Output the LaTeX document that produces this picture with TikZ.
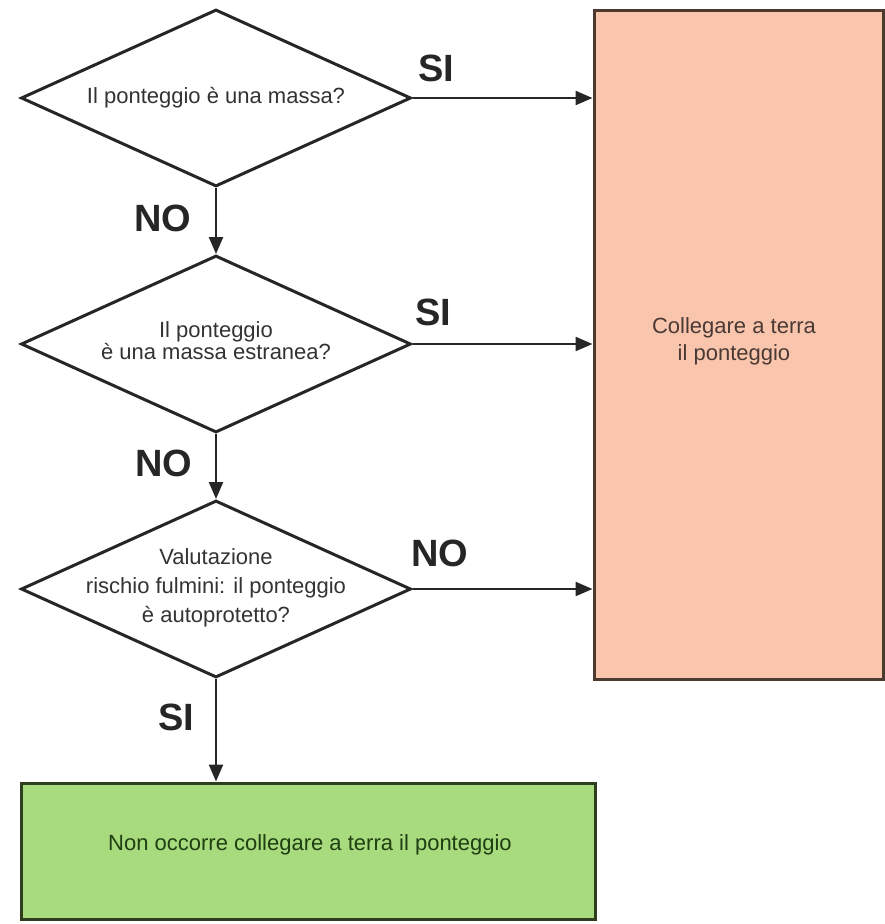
\documentclass[tikz,border=0pt]{standalone}
\usepackage{fontspec}
\setmainfont{Liberation Sans}
\usetikzlibrary{shapes.geometric,arrows.meta}
\definecolor{pinkfill}{HTML}{F9C5AC}
\definecolor{pinkdraw}{HTML}{4A3A30}
\definecolor{greenfill}{HTML}{A8DA7E}
\definecolor{greendraw}{HTML}{2E3D1E}
\definecolor{greentext}{HTML}{1F3F12}
\definecolor{pinktext}{HTML}{4A3A35}
\definecolor{qtext}{HTML}{333333}
\tikzset{
  decision/.style={diamond, draw=black!85, line width=3pt, minimum width=390pt, minimum height=177pt, inner sep=0pt, aspect=2.2},
  qlabel/.style={text=qtext, align=center, inner sep=0pt},
  answer/.style={font=\fontsize{38}{38}\selectfont\bfseries, text=black!85, inner sep=0pt},
  flow/.style={line width=2.4pt, draw=black!85, -{Triangle[length=17pt,width=14pt]}},
}
\begin{document}
\begin{tikzpicture}[x=1pt,y=-1pt]
\useasboundingbox (0,0) rectangle (885,924);
% decisions
\node[decision] (d1) at (216,98) {};
\node[decision] (d2) at (216,344) {};
\node[decision] (d3) at (216,589) {};
\node[qlabel, font=\fontsize{22}{22}\selectfont] (t1) at (216,98) {Il ponteggio è una massa?};
\node[qlabel, font=\fontsize{22}{20}\selectfont] (t2) at (216,341) {Il ponteggio\\è una massa estranea?};
\node[qlabel, font=\fontsize{22}{29}\selectfont] (t3) at (216,588) {Valutazione\\rischio fulmini: il ponteggio\\è autoprotetto?};
% result boxes
\node[draw=pinkdraw, fill=pinkfill, line width=3pt, minimum width=289pt, minimum height=669pt, inner sep=0pt] (pink) at (738.5,344.5) {};
\node[font=\fontsize{22}{27}\selectfont, text=pinktext, align=center] (pt) at (734,341) {Collegare a terra\\il ponteggio};
\node[draw=greendraw, fill=greenfill, line width=3pt, minimum width=574pt, minimum height=136pt, inner sep=0pt] (green) at (308,851) {};
\node[font=\fontsize{22}{22}\selectfont, text=greentext] (gt) at (310,845) {Non occorre collegare a terra il ponteggio};
% connectors
\draw[flow] (d1.east) -- (d1.east -| pink.west);
\draw[flow] (d2.east) -- (d2.east -| pink.west);
\draw[flow] (d3.east) -- (d3.east -| pink.west);
\draw[flow] (d1.south) -- (d2.north);
\draw[flow] (d2.south) -- (d3.north);
\draw[flow] (d3.south) -- (d3.south |- green.north);
% labels
\node[answer] (s1) at (436,68) {SI};
\node[answer] (s2) at (433,312) {SI};
\node[answer] (n3) at (440,553) {NO};
\node[answer] (n1) at (163,218) {NO};
\node[answer] (n2) at (164,463) {NO};
\node[answer] (s3) at (176,717) {SI};
\end{tikzpicture}
\end{document}
